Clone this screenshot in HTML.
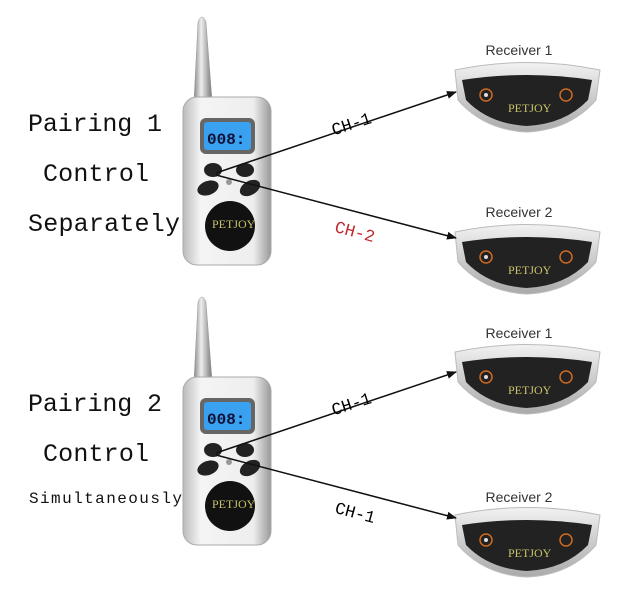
<!DOCTYPE html>
<html><head><style>body{margin:0;background:#fff}svg{display:block}</style></head><body>
<svg width="634" height="610" viewBox="0 0 634 610" xmlns="http://www.w3.org/2000/svg">
<defs>
<linearGradient id="ant" x1="0" x2="1"><stop offset="0" stop-color="#888"/><stop offset=".4" stop-color="#eee"/><stop offset="1" stop-color="#777"/></linearGradient>
<linearGradient id="body" x1="0" x2="1"><stop offset="0" stop-color="#bbb"/><stop offset=".2" stop-color="#f4f4f4"/><stop offset=".8" stop-color="#eee"/><stop offset="1" stop-color="#999"/></linearGradient>
<linearGradient id="rc" x1="0" y1="0" x2="0" y2="1"><stop offset="0" stop-color="#f2f2f2"/><stop offset=".5" stop-color="#ccc"/><stop offset="1" stop-color="#aaa"/></linearGradient>
<marker id="ah" markerWidth="10" markerHeight="8" refX="9" refY="4" orient="auto" markerUnits="userSpaceOnUse"><path d="M0,0 L10,4 L0,8 Z" fill="#111"/></marker>
<g id="remote">
<path d="M194,100 L198,22 Q202,12 206,22 L212,100 Z" fill="url(#ant)" stroke="#999" stroke-width=".5"/>
<rect x="183" y="97" width="88" height="168" rx="14" fill="url(#body)" stroke="#aaa"/>
<rect x="200" y="118" width="55" height="36" rx="6" fill="#666"/>
<rect x="204" y="122" width="47" height="28" rx="3" fill="#3aa0f0"/>
<text x="207" y="144" font-family="Liberation Mono,monospace" font-size="16" font-weight="bold" fill="#113">008:</text>
<ellipse cx="213" cy="170" rx="9" ry="7" fill="#222"/>
<ellipse cx="245" cy="170" rx="9" ry="7" fill="#222"/>
<ellipse cx="208" cy="188" rx="11" ry="7" fill="#222" transform="rotate(-20 208 188)"/>
<ellipse cx="250" cy="188" rx="11" ry="7" fill="#222" transform="rotate(-30 250 188)"/>
<circle cx="229" cy="182" r="3" fill="#999"/>
<circle cx="230" cy="226" r="25" fill="#111"/>
<text x="212" y="228" font-family="Liberation Serif,serif" font-size="12" fill="#c9c26a">PETJOY</text>
</g>
<g id="recv">
<path d="M455,70 Q527,55 600,70 L596,100 Q570,130 527,132 Q484,130 458,100 Z" fill="url(#rc)" stroke="#bbb"/>
<path d="M462,80 Q527,70 592,80 L588,100 Q565,124 527,126 Q489,124 466,100 Z" fill="#222"/>
<circle cx="486" cy="95" r="6" fill="none" stroke="#d06a20" stroke-width="1.5"/>
<circle cx="486" cy="95" r="2" fill="#ddd"/>
<circle cx="566" cy="95" r="6" fill="none" stroke="#d06a20" stroke-width="1.5"/>
<text x="508" y="112" font-family="Liberation Serif,serif" font-size="12" fill="#c9c26a">PETJOY</text>
</g>
</defs>
<use href="#remote"/>
<use href="#remote" y="280"/>
<use href="#recv"/>
<use href="#recv" y="162"/>
<use href="#recv" y="282"/>
<use href="#recv" y="445"/>
<g font-family="Liberation Sans,sans-serif" font-size="14" fill="#333" text-anchor="middle">
<text x="519" y="55">Receiver 1</text><text x="519" y="217">Receiver 2</text>
<text x="519" y="338">Receiver 1</text><text x="519" y="502">Receiver 2</text>
</g>
<g stroke="#111" stroke-width="1.5" marker-end="url(#ah)">
<line x1="216" y1="173" x2="456" y2="92"/>
<line x1="216" y1="175" x2="456" y2="238"/>
<line x1="216" y1="453" x2="456" y2="372"/>
<line x1="216" y1="455" x2="456" y2="518"/>
</g>
<g font-family="Liberation Mono,monospace" font-size="17">
<text x="330" y="128" transform="rotate(-18 355 120)">CH-1</text>
<text x="335" y="237" fill="#c0282d" transform="rotate(15 355 230)">CH-2</text>
<text x="330" y="408" transform="rotate(-18 355 400)">CH-1</text>
<text x="335" y="518" transform="rotate(15 355 512)">CH-1</text>
</g>
<g font-family="Liberation Mono,monospace" font-size="25" fill="#111">
<text x="28" y="131" textLength="134">Pairing 1</text>
<text x="43" y="181" textLength="106">Control</text>
<text x="28" y="231" textLength="152">Separately</text>
<text x="28" y="411" textLength="134">Pairing 2</text>
<text x="43" y="461" textLength="106">Control</text>
<text x="29" y="503" font-size="16" textLength="153">Simultaneously</text>
</g>
</svg>
</body></html>
